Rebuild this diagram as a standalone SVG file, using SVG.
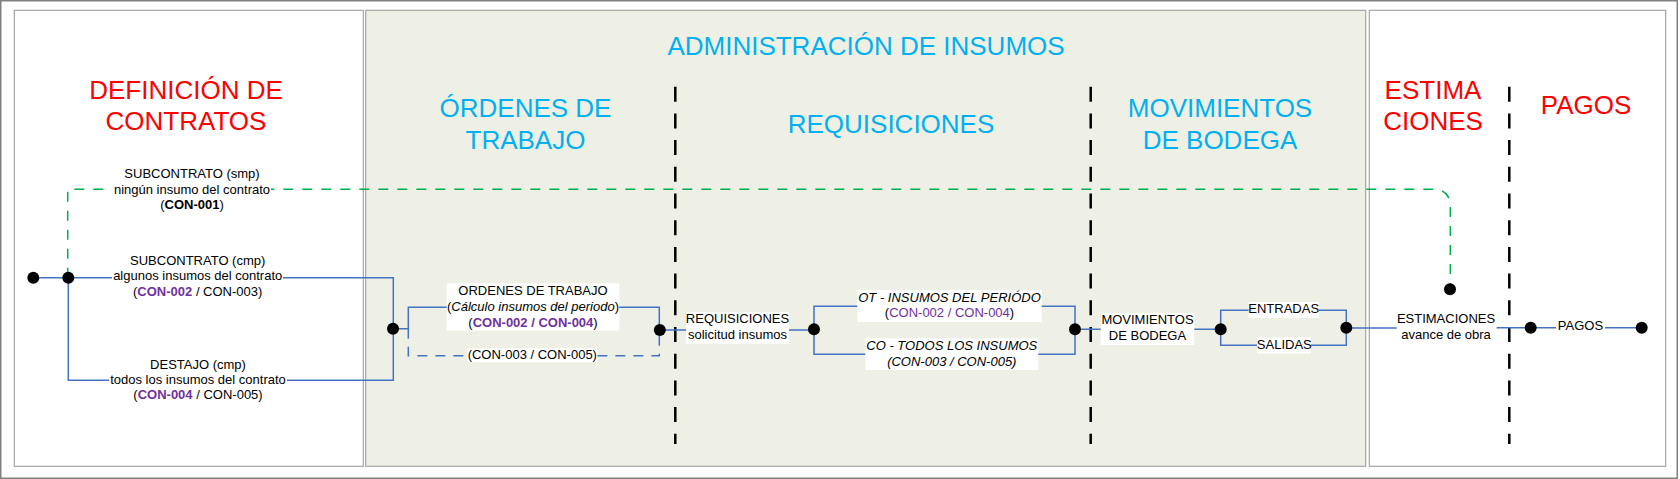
<svg xmlns="http://www.w3.org/2000/svg" width="1680" height="479" viewBox="0 0 1680 479">
<style>
text{font-family:"Liberation Sans",Arial,sans-serif;}
.t{font-size:13px;fill:#000;text-anchor:middle;}
.h{font-size:26px;text-anchor:middle;}
.red{fill:#ff0000;}
.blue{fill:#00b0f0;}
.pb{fill:#7030a0;font-weight:bold;}
.p{fill:#7030a0;}
.b{font-weight:bold;}
.i{font-style:italic;}
.bg{fill:#ffffff;}
.ln{fill:none;stroke:#4472c4;stroke-width:1.5;}
.dl{fill:none;stroke:#4472c4;stroke-width:1.5;stroke-dasharray:10 8;}
.gl{fill:none;stroke:#00b050;stroke-width:1.5;stroke-dasharray:10 9;}
.div{stroke:#000;stroke-width:2.5;stroke-dasharray:15 11.7;}
.dot{fill:#000;}
.panel{stroke:#a6a6a6;stroke-width:1.2;}
</style>
<rect x="0.75" y="0.75" width="1676.5" height="477.5" fill="#fff" stroke="#808080" stroke-width="1.5"/>
<g id="panels">
<rect class="panel" x="14.3" y="10.3" width="349" height="456" fill="#fff"/>
<rect class="panel" x="365.7" y="10.3" width="1000" height="456" fill="#eef0e6"/>
<rect class="panel" x="1369.3" y="10.3" width="296.4" height="456" fill="#fff"/>
</g>
<g id="titles">
<text class="h red" x="186" y="99.3">DEFINICIÓN DE</text>
<text class="h red" x="186" y="130">CONTRATOS</text>
<text class="h blue" x="866" y="55">ADMINISTRACIÓN DE INSUMOS</text>
<text class="h blue" x="525.5" y="116.7">ÓRDENES DE</text>
<text class="h blue" x="525.5" y="148.5">TRABAJO</text>
<text class="h blue" x="891" y="133.3">REQUISICIONES</text>
<text class="h blue" x="1220" y="116.7">MOVIMIENTOS</text>
<text class="h blue" x="1220" y="148.5">DE BODEGA</text>
<text class="h red" x="1433" y="99.3">ESTIMA</text>
<text class="h red" x="1433" y="129.8">CIONES</text>
<text class="h red" x="1586" y="114">PAGOS</text>
</g>
<g id="dividers">
<line class="div" x1="675.3" y1="86.7" x2="675.3" y2="444"/>
<line class="div" x1="1090.7" y1="86.7" x2="1090.7" y2="444"/>
<line class="div" x1="1509.3" y1="86.7" x2="1509.3" y2="444"/>
</g>
<g id="connectors">
<path class="gl" d="M67.7,277.7 V189.3 H1435.3 A15 15 0 0 1 1450.3,204.3 V289.3"/>
<path class="ln" d="M33.3,277.7 H393.3 V380.3 H68.3 V277.7"/>
<path class="ln" d="M393.3,328.7 H408.3 V307.3 H659.3 V330"/>
<path class="dl" d="M408.3,328.7 V355.7 H659.3 V330"/>
<path class="ln" d="M659.3,330 H814 V306.3 H1075 V329.3"/>
<path class="ln" d="M814,329.3 V354.3 H1075 V329.3 H1220.7"/>
<path class="ln" d="M1220.7,329.3 V310.3 H1346.3 V327.7"/>
<path class="ln" d="M1220.7,329.3 V345.3 H1346.3 V327.7"/>
<path class="ln" d="M1346.3,328 H1496.7 V327.7 H1641.7"/>
</g>
<g id="n-def-smp">
<rect class="bg" x="112" y="166" width="159" height="47"/>
<text class="t" x="192" y="178.3">SUBCONTRATO (smp)</text>
<text class="t" x="192" y="193.6">ningún insumo del contrato</text>
<text class="t" x="192" y="209">(<tspan class="b">CON-001</tspan>)</text>
</g>
<g id="n-def-cmp">
<rect class="bg" x="112" y="253" width="171" height="47"/>
<text class="t" x="197.7" y="265">SUBCONTRATO (cmp)</text>
<text class="t" x="197.7" y="280.4">algunos insumos del contrato</text>
<text class="t" x="197.7" y="295.7">(<tspan class="pb">CON-002</tspan> / CON-003)</text>
</g>
<g id="n-destajo">
<rect class="bg" x="109" y="357" width="178" height="46"/>
<text class="t" x="198" y="369">DESTAJO (cmp)</text>
<text class="t" x="198" y="384">todos los insumos del contrato</text>
<text class="t" x="198" y="399">(<tspan class="pb">CON-004</tspan> / CON-005)</text>
</g>
<g id="n-ordenes">
<rect class="bg" x="446.7" y="283.3" width="172.6" height="47.4"/>
<text class="t" x="533" y="295">ORDENES DE TRABAJO</text>
<text class="t" x="533" y="311">(<tspan class="i">Cálculo insumos del periodo</tspan>)</text>
<text class="t" x="533" y="326.7">(<tspan class="pb">CON-002 / CON-004</tspan>)</text>
</g>
<g id="n-ordenes-co">
<rect class="bg" x="467.3" y="348.3" width="130" height="14"/>
<text class="t" x="532.3" y="359">(CON-003 / CON-005)</text>
</g>
<g id="n-requisiciones">
<rect class="bg" x="686" y="312" width="103" height="32"/>
<text class="t" x="737.5" y="323.3">REQUISICIONES</text>
<text class="t" x="737.5" y="339">solicitud insumos</text>
</g>
<g id="n-ot">
<rect class="bg" x="857.3" y="290" width="184.4" height="32"/>
<text class="t i" x="949.5" y="301.7">OT - INSUMOS DEL PERIÓDO</text>
<text class="t" x="949.5" y="317.3">(<tspan class="p">CON-002 / CON-004</tspan>)</text>
</g>
<g id="n-co">
<rect class="bg" x="865.3" y="338.3" width="173" height="31.7"/>
<text class="t i" x="951.8" y="350">CO - TODOS LOS INSUMOS</text>
<text class="t i" x="951.8" y="365.7">(CON-003 / CON-005)</text>
</g>
<g id="n-movimientos">
<rect class="bg" x="1100.7" y="313" width="93.6" height="32"/>
<text class="t" x="1147.5" y="324.3">MOVIMIENTOS</text>
<text class="t" x="1147.5" y="340">DE BODEGA</text>
</g>
<g id="n-entradas">
<rect class="bg" x="1248.7" y="302" width="70.3" height="16"/>
<text class="t" x="1283.7" y="313.3">ENTRADAS</text>
</g>
<g id="n-salidas">
<rect class="bg" x="1257" y="337.5" width="54" height="16"/>
<text class="t" x="1284.3" y="348.7">SALIDAS</text>
</g>
<g id="n-estimaciones">
<rect class="bg" x="1396.7" y="312" width="100" height="32"/>
<text class="t" x="1446" y="323.3">ESTIMACIONES</text>
<text class="t" x="1446" y="338.7">avance de obra</text>
</g>
<g id="n-pagos">
<rect class="bg" x="1556" y="319" width="49" height="14"/>
<text class="t" x="1580.5" y="330">PAGOS</text>
</g>
<g id="dots">
<circle class="dot" cx="33.3" cy="277.7" r="6"/>
<circle class="dot" cx="68.3" cy="277.7" r="6"/>
<circle class="dot" cx="393" cy="328.7" r="6"/>
<circle class="dot" cx="659.8" cy="330" r="6"/>
<circle class="dot" cx="814" cy="329.3" r="6"/>
<circle class="dot" cx="1075" cy="329.3" r="6"/>
<circle class="dot" cx="1220.7" cy="329.3" r="6"/>
<circle class="dot" cx="1346.3" cy="327.7" r="6"/>
<circle class="dot" cx="1450" cy="289.3" r="6"/>
<circle class="dot" cx="1530.7" cy="327.7" r="6"/>
<circle class="dot" cx="1641.7" cy="327.7" r="6"/>
</g>
</svg>
